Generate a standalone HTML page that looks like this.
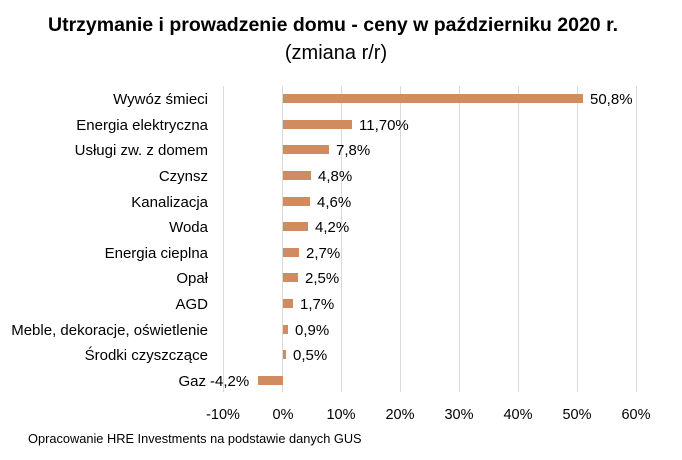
<!DOCTYPE html><html><head><style>body{margin:0;background:#fff}</style></head><body>
<svg width="682" height="455" xmlns="http://www.w3.org/2000/svg" font-family="Liberation Sans, DejaVu Sans, sans-serif">
<text x="333" y="31" text-anchor="middle" font-size="19.5" font-weight="bold" fill="#000">Utrzymanie i prowadzenie domu - ceny w październiku 2020 r.</text>
<text x="336" y="59" text-anchor="middle" font-size="20" fill="#000">(zmiana r/r)</text>
<g stroke="#d9d9d9" stroke-width="1">
<line x1="223.5" y1="86" x2="223.5" y2="392"/><line x1="282.5" y1="86" x2="282.5" y2="392"/><line x1="341.5" y1="86" x2="341.5" y2="392"/><line x1="400.5" y1="86" x2="400.5" y2="392"/><line x1="459.5" y1="86" x2="459.5" y2="392"/><line x1="518.5" y1="86" x2="518.5" y2="392"/><line x1="577.5" y1="86" x2="577.5" y2="392"/><line x1="636.5" y1="86" x2="636.5" y2="392"/>
</g>
<g font-size="14.5" fill="#000" text-anchor="middle">
<text x="223" y="419">-10%</text><text x="283" y="419">0%</text><text x="341" y="419">10%</text><text x="400" y="419">20%</text><text x="459" y="419">30%</text><text x="518" y="419">40%</text><text x="577" y="419">50%</text><text x="636" y="419">60%</text>
</g>
<g fill="#D08C5E">
<rect x="283" y="94" width="300" height="9"/>
<rect x="283" y="120" width="69" height="9"/>
<rect x="283" y="145" width="46" height="9"/>
<rect x="283" y="171" width="28" height="9"/>
<rect x="283" y="197" width="27" height="9"/>
<rect x="283" y="222" width="25" height="9"/>
<rect x="283" y="248" width="16" height="9"/>
<rect x="283" y="273" width="15" height="9"/>
<rect x="283" y="299" width="10" height="9"/>
<rect x="283" y="325" width="5" height="9"/>
<rect x="283" y="350" width="3" height="9"/>
<rect x="258" y="376" width="25" height="9"/>
</g>
<g font-size="15" fill="#000" text-anchor="end">
<text x="208" y="104">Wywóz śmieci</text>
<text x="208" y="130">Energia elektryczna</text>
<text x="208" y="155">Usługi zw. z domem</text>
<text x="208" y="181">Czynsz</text>
<text x="208" y="207">Kanalizacja</text>
<text x="208" y="232">Woda</text>
<text x="208" y="258">Energia cieplna</text>
<text x="208" y="283">Opał</text>
<text x="208" y="309">AGD</text>
<text x="208" y="335">Meble, dekoracje, oświetlenie</text>
<text x="208" y="360">Środki czyszczące</text>
<text x="206" y="386">Gaz</text>
</g>
<g font-size="15" fill="#000">
<text x="590" y="104">50,8%</text>
<text x="359" y="130">11,70%</text>
<text x="336" y="155">7,8%</text>
<text x="318" y="181">4,8%</text>
<text x="317" y="207">4,6%</text>
<text x="315" y="232">4,2%</text>
<text x="306" y="258">2,7%</text>
<text x="305" y="283">2,5%</text>
<text x="300" y="309">1,7%</text>
<text x="295" y="335">0,9%</text>
<text x="293" y="360">0,5%</text>
<text x="210" y="386">-4,2%</text>
</g>
<text x="28" y="443" font-size="12.8" fill="#000">Opracowanie HRE Investments na podstawie danych GUS</text>
</svg>
</body></html>
